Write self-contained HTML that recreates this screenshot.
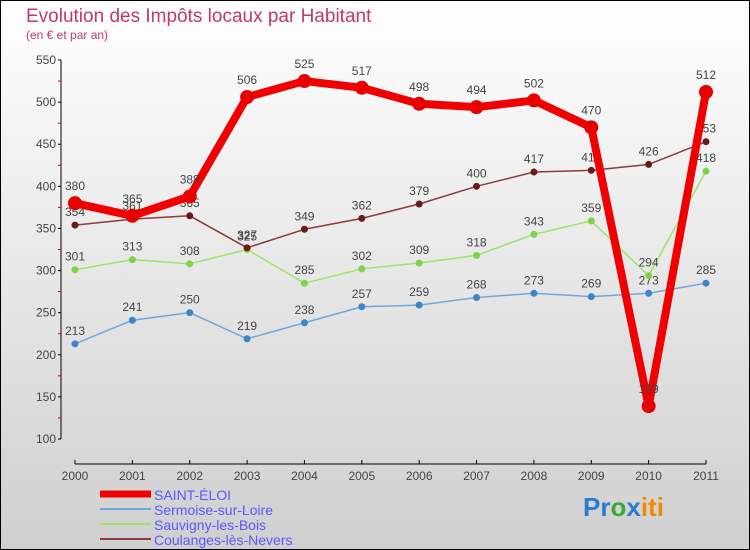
<!DOCTYPE html>
<html><head><meta charset="utf-8"><style>
body{margin:0}
svg{display:block;font-family:"Liberation Sans",sans-serif}
</style></head><body>
<svg id="chart" width="750" height="550" xmlns="http://www.w3.org/2000/svg">
<defs><linearGradient id="bg" x1="0" y1="0" x2="0" y2="1"><stop offset="0" stop-color="#ffffff"/><stop offset="1" stop-color="#cfcfcf"/></linearGradient></defs>
<rect x="0.5" y="0.5" width="749" height="549" fill="url(#bg)" stroke="#000"/>
<text x="26" y="22" font-size="19" fill="#c0396a">Evolution des Impôts locaux par Habitant</text>
<text x="26" y="39" font-size="12" fill="#c0396a">(en € et par an)</text>
<g id="axes"></g><g id="series"></g><g id="legend"></g>
<text x="583" y="516" font-size="26" font-weight="bold"><tspan fill="#2b7bd1">Pr</tspan><tspan fill="#3aaa35">o</tspan><tspan fill="#2b7bd1">x</tspan><tspan fill="#f08a00">iti</tspan></text>
</svg>
<script>
const years=[2000,2001,2002,2003,2004,2005,2006,2007,2008,2009,2010,2011];
const yTicks=[100,150,200,250,300,350,400,450,500,550];
const saintEloi=[380,365,388,506,525,517,498,494,502,470,139,512];
const sermoise=[213,241,250,219,238,257,259,268,273,269,273,285];
const sauvigny=[301,313,308,325,285,302,309,318,343,359,294,418];
const coulanges=[354,361,365,327,349,362,379,400,417,419,426,453];
const NS="http://www.w3.org/2000/svg";
const x=i=>75+i*(706-75)/11;
const y=v=>439-(v-100)*(439-60)/450;
function mk(tag,attrs,parent){const e=document.createElementNS(NS,tag);for(const k in attrs)e.setAttribute(k,attrs[k]);parent.appendChild(e);return e;}
const axes=document.getElementById('axes');
const ya=mk('line',{x1:61,y1:60,x2:61,y2:439,stroke:'#000'},axes);


const xa=mk('line',{x1:75,y1:464,x2:706,y2:464,stroke:'#000'},axes);


yTicks.forEach(v=>{
  mk('line',{x1:58,y1:y(v),x2:61,y2:y(v),stroke:'#000'},axes);
  if(v<550) mk('line',{x1:58,y1:y(v+25),x2:61,y2:y(v+25),stroke:'#d00'},axes);
  const t=mk('text',{x:56,y:y(v)+4,'font-size':12,'text-anchor':'end',fill:'#444'},axes);
  t.textContent=v;
  
  
});
years.forEach((yr,i)=>{
  mk('line',{x1:x(i),y1:460,x2:x(i),y2:464,stroke:'#000'},axes);
  const t=mk('text',{x:x(i),y:480,'font-size':12,'text-anchor':'middle',fill:'#444'},axes);
  t.textContent=yr;
  
  
});
const series=[
 {d:sermoise,c:'#6fa8dc',dot:'#3c85c6',w:1.5,r:3.5,n:'sermoise'},
 {d:sauvigny,c:'#9ee46a',dot:'#7ed348',w:1.5,r:3.5,n:'sauvigny'},
 {d:coulanges,c:'#8b3a3a',dot:'#6b1a1a',w:1.5,r:3.5,n:'coulanges'},
 {d:saintEloi,c:'#f00000',dot:'#e60000',w:8,r:7,n:'saint-eloi'}];
const sg=document.getElementById('series');
series.forEach(s=>{
  const g=mk('g',{},sg);
  
  
  const p=mk('polyline',{points:s.d.map((v,i)=>x(i)+','+y(v)).join(' '),fill:'none',stroke:s.c,'stroke-width':s.w,'stroke-linejoin':'round'},g);
  
  
  s.d.forEach((v,i)=>{
    const c=mk('circle',{cx:x(i),cy:y(v),r:s.r,fill:s.dot},g);
    
    
    const t=mk('text',{x:x(i),y:y(v)-9-(s.w>5?4:0),'font-size':12,'text-anchor':'middle',fill:'#444'},g);
    t.textContent=v;
    
    
  });
});
const lg=document.getElementById('legend');
const leg=[['SAINT-ÉLOI','#f00000',7],['Sermoise-sur-Loire','#6fa8dc',2],['Sauvigny-les-Bois','#9ee46a',2],['Coulanges-lès-Nevers','#8b3a3a',2]];
leg.forEach((l,i)=>{
  const yy=494+i*15;
  const ln=mk('line',{x1:100,y1:yy,x2:151,y2:yy,stroke:l[1],'stroke-width':l[2]},lg);
  
  
  const t=mk('text',{x:154,y:yy+6,'font-size':14,fill:'#5a5aff'},lg);
  t.textContent=l[0];
  
  
});
</script>
</body></html>
